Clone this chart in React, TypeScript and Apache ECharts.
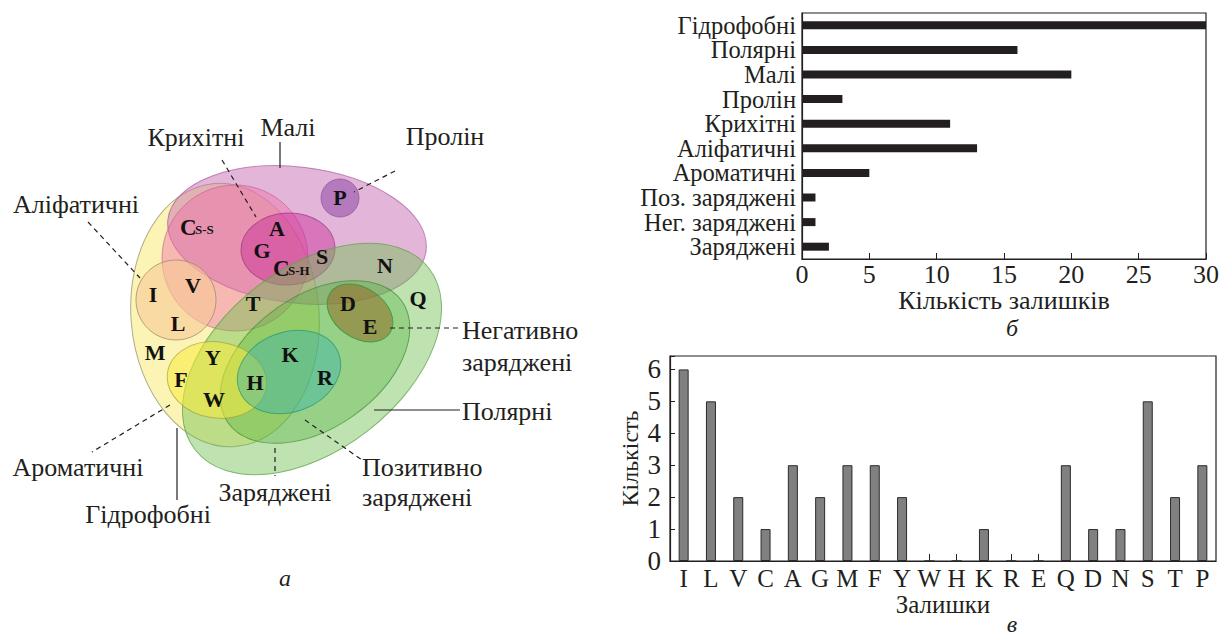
import React, { useEffect, useRef } from 'react';
import * as echarts from 'echarts';

// ---------- DATA ----------
const groupCategories = ['Гідрофобні', 'Полярні', 'Малі', 'Пролін', 'Крихітні', 'Аліфатичні', 'Ароматичні', 'Поз. заряджені', 'Нег. заряджені', 'Заряджені'];
const groupCounts = [30, 16, 20, 3, 11, 13, 5, 1, 1, 2];
const residues = ['I', 'L', 'V', 'C', 'A', 'G', 'M', 'F', 'Y', 'W', 'H', 'K', 'R', 'E', 'Q', 'D', 'N', 'S', 'T', 'P'];
const residueCounts = [6, 5, 2, 1, 3, 2, 3, 3, 2, 0, 0, 1, 0, 0, 3, 1, 1, 5, 2, 3];

const vennSetNames = ['Гідрофобні', 'Малі', 'Крихітні', 'Пролін', 'Аліфатичні', 'Полярні', 'Заряджені', 'Ароматичні', 'Позитивно заряджені', 'Негативно заряджені'];
const vennLetters = ['P', 'A', 'G', 'S', 'N', 'Q', 'D', 'E', 'I', 'V', 'L', 'T', 'M', 'Y', 'F', 'W', 'H', 'K', 'R'];

// ---------- LAYOUT (diagram geometry, not data) ----------
const FONT = '"Liberation Serif", "DejaVu Serif", serif';
const INK = '#231f20';

const shapeLayout: any[] = [
  { cx: 225, cy: 315, rx: 94, ry: 132, rot: 0.08, fill: 'rgba(248,236,130,0.6)', stroke: 'rgba(140,140,110,0.7)' },
  { cx: 297, cy: 235, rx: 130, ry: 68, rot: -0.12, fill: 'rgba(200,110,180,0.5)', stroke: 'rgba(170,90,160,0.7)' },
  { cx: 235, cy: 258, rx: 73, ry: 73, rot: 0, fill: 'rgba(240,110,170,0.45)', stroke: 'rgba(190,90,140,0.6)' },
  { cx: 340, cy: 198, rx: 19, ry: 19, rot: 0, fill: 'rgba(150,80,170,0.6)', stroke: 'rgba(130,70,150,0.6)' },
  { cx: 176, cy: 300, rx: 40, ry: 40, rot: 0, fill: 'rgba(248,200,150,0.6)', stroke: 'rgba(150,130,110,0.7)' },
  { cx: 288, cy: 249, rx: 47, ry: 36, rot: 0.05, fill: 'rgba(200,40,150,0.45)', stroke: 'rgba(150,40,120,0.6)' },
  { cx: 312, cy: 359, rx: 148, ry: 91, rot: 0.66, fill: 'rgba(110,190,80,0.45)', stroke: 'rgba(90,160,70,0.7)' },
  { cx: 315, cy: 362, rx: 106, ry: 66, rot: 0.61, fill: 'rgba(60,170,40,0.3)', stroke: 'rgba(60,140,50,0.7)' },
  { cx: 217, cy: 380, rx: 50, ry: 38, rot: -0.15, fill: 'rgba(250,235,60,0.55)', stroke: 'rgba(150,150,60,0.6)' },
  { cx: 289, cy: 372, rx: 53, ry: 40, rot: 0.35, fill: 'rgba(60,180,170,0.45)', stroke: 'rgba(40,150,110,0.7)' },
  { cx: 360, cy: 313, rx: 36, ry: 25, rot: -0.6, fill: 'rgba(150,110,40,0.55)', stroke: 'rgba(50,150,60,0.8)' },
];

const letterPos: number[][] = [
  [340, 197], [277, 228], [262, 250], [322, 256], [385, 265], [418, 298], [348, 303], [370, 326],
  [153, 294], [193, 285], [178, 323], [253, 303], [155, 352], [213, 357], [181, 379], [214, 399],
  [255, 382], [290, 354], [325, 377],
];

function buildVenn(): any[] {
  const els: any[] = [];
  shapeLayout.forEach((s, i) => {
    els.push({
      type: 'ellipse', name: vennSetNames[Math.min(i, vennSetNames.length - 1)],
      x: s.cx, y: s.cy, rotation: s.rot,
      shape: { cx: 0, cy: 0, rx: s.rx, ry: s.ry },
      style: { fill: s.fill, stroke: s.stroke, lineWidth: 1 },
      silent: true,
    });
  });
  vennLetters.forEach((l, i) => {
    els.push({
      type: 'text', x: letterPos[i][0], y: letterPos[i][1], silent: true,
      style: { text: l, fill: '#111', fontFamily: FONT, fontWeight: 'bold', fontSize: 22, align: 'center', verticalAlign: 'middle' },
    });
  });
  const sub = (x: number, y: number, big: string, small: string) => {
    els.push({ type: 'text', x, y, silent: true, style: { text: big, fill: '#111', fontFamily: FONT, fontWeight: 'bold', fontSize: 23, align: 'left', verticalAlign: 'bottom' } });
    els.push({ type: 'text', x: x + 15, y: y - 3, silent: true, style: { text: small, fill: '#111', fontFamily: FONT, fontWeight: 'bold', fontSize: 13, align: 'left', verticalAlign: 'bottom' } });
  };
  sub(180, 239, 'C', 'S-S');
  sub(273, 280, 'C', 'S-H');

  const dash = [5, 4];
  const line = (x1: number, y1: number, x2: number, y2: number, dashed: boolean) => {
    els.push({ type: 'line', silent: true, shape: { x1, y1, x2, y2 }, style: { stroke: INK, lineWidth: 1.2, lineDash: dashed ? dash : null } });
  };
  line(280, 142, 280, 168, false);
  line(222, 160, 256, 217, true);
  line(395, 171, 354, 192, true);
  line(88, 222, 140, 278, true);
  line(390, 328, 458, 328, true);
  line(374, 410, 460, 410, false);
  line(305, 420, 362, 460, true);
  line(275, 448, 275, 476, true);
  line(177, 428, 177, 500, false);
  line(170, 405, 92, 452, true);

  const label = (x: number, y: number, t: string, align = 'center', italic = false) => {
    els.push({ type: 'text', x, y, silent: true, style: { text: t, fill: INK, fontFamily: FONT, fontSize: italic ? 24 : 26, lineHeight: italic ? 18 : 26, fontStyle: italic ? 'italic' : 'normal', align, verticalAlign: 'middle' } });
  };
  label(288, 127, 'Малі');
  label(196, 137, 'Крихітні');
  label(445, 136, 'Пролін');
  label(76, 204, 'Аліфатичні');
  label(462, 330, 'Негативно', 'left');
  label(462, 362, 'заряджені', 'left');
  label(462, 411, 'Полярні', 'left');
  label(362, 467, 'Позитивно', 'left');
  label(362, 497, 'заряджені', 'left');
  label(275, 492, 'Заряджені');
  label(148, 514, 'Гідрофобні');
  label(78, 467, 'Ароматичні');
  label(285, 578, 'а', 'center', true);
  label(1012, 328, 'б', 'center', true);
  label(1012, 624, 'в', 'center', true);
  return els;
}

export default function App() {
  const ref = useRef<HTMLDivElement>(null);
  useEffect(() => {
    if (!ref.current) return;
    const chart = echarts.init(ref.current, undefined, { renderer: 'svg' });
    const axisLine = { show: true, lineStyle: { color: INK, width: 1.2 } };
    const txt = { color: INK, fontFamily: FONT, fontSize: 24 };
    chart.setOption({
      animation: false,
      backgroundColor: '#ffffff',
      grid: [
        { left: 802, top: 13, width: 415, height: 246, show: true, borderColor: INK, borderWidth: 1.2, backgroundColor: 'transparent' },
        { left: 670, top: 356, width: 546, height: 205, show: true, borderColor: INK, borderWidth: 1.2, backgroundColor: 'transparent' },
      ],
      xAxis: [
        {
          gridIndex: 0, type: 'value', min: 0, max: 30, interval: 5,
          axisLine, axisTick: { show: true, inside: true, length: 6, lineStyle: { color: INK } },
          axisLabel: { ...txt, fontSize: 26, lineHeight: 22, margin: 4 }, splitLine: { show: false },
          name: 'Кількість залишків', nameLocation: 'middle', nameGap: 26, nameTextStyle: { ...txt, fontSize: 26, lineHeight: 22 },
        },
        {
          gridIndex: 1, type: 'category', data: residues,
          axisLine, axisTick: { show: true, inside: true, alignWithLabel: true, length: 7, lineStyle: { color: INK } },
          axisLabel: { ...txt, fontSize: 25, margin: 5, interval: 0 },
          name: 'Залишки', nameLocation: 'middle', nameGap: 32, nameTextStyle: { ...txt, fontSize: 25, lineHeight: 22 },
        },
      ],
      yAxis: [
        {
          gridIndex: 0, type: 'category', data: groupCategories, inverse: true,
          axisLine, axisTick: { show: false }, axisLabel: { ...txt, fontSize: 24.5, lineHeight: 23, margin: 6, interval: 0 },
        },
        {
          gridIndex: 1, type: 'value', min: 0, max: 6.42, interval: 1,
          axisLine, axisTick: { show: true, inside: true, length: 5, lineStyle: { color: INK } },
          axisLabel: { ...txt, fontSize: 27, lineHeight: 24, margin: 9, formatter: (v: number) => (Number.isInteger(v) ? String(v) : '') },
          splitLine: { show: false },
          name: 'Кількість', nameLocation: 'middle', nameGap: 28, nameRotate: 90, nameTextStyle: txt,
        },
      ],
      series: [
        { type: 'bar', xAxisIndex: 0, yAxisIndex: 0, data: groupCounts, barWidth: 8, itemStyle: { color: INK } },
        { type: 'bar', xAxisIndex: 1, yAxisIndex: 1, data: residueCounts, barWidth: 10, itemStyle: { color: '#808080', borderColor: '#2a2a2a', borderWidth: 1 } },
      ],
      graphic: buildVenn(),
    });
    return () => chart.dispose();
  }, []);
  return <div ref={ref} style={{ position: 'fixed', left: 0, top: 0, width: 1222, height: 636 }} />;
}
